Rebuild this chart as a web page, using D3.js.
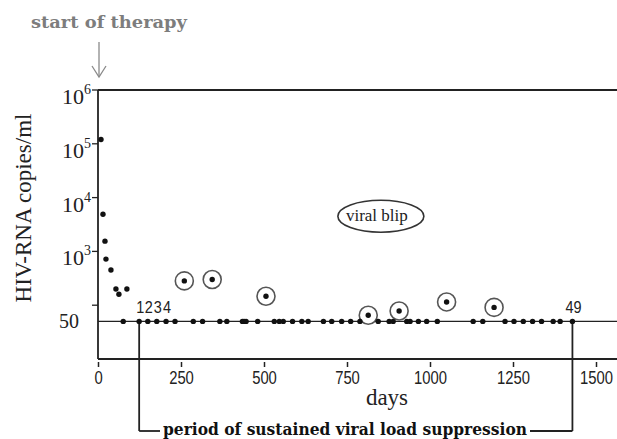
<!DOCTYPE html>
<html>
<head>
<meta charset="utf-8">
<script src="https://unpkg.com/d3@7/dist/d3.min.js"></script>
<style>
  html, body { margin: 0; padding: 0; background: #fff; }
  svg { display: block; }
</style>
</head>
<body>
<script>
// data
const earlyDays = [9, 15, 21, 24, 39, 54, 63, 87];
const earlyLoads = [120000, 4900, 1550, 720, 450, 200, 160, 200];

// samples below detection limit (drawn on the 50 copies line)
const suppressedDays = [76, 124, 150, 177, 205, 232, 287, 315, 367, 388, 435, 440, 446,
  481, 531, 546, 558, 586, 614, 633, 679, 704, 734, 761, 789, 844, 877, 889, 930, 940,
  965, 990, 1022, 1130, 1159, 1226, 1253, 1281, 1309, 1336, 1371, 1392, 1429];
const detectionLimit = 50;

const blipDays = [260, 344, 506, 814, 907, 1050, 1193];
const blipLoads = [283, 300, 147, 65, 78, 115, 91];

const xTicks = [0, 250, 500, 750, 1000, 1250, 1500];
const yDecades = [6, 5, 4, 3];
const labelledCounts = [1, 2, 3, 4, 49];

// layout
const width = 617;
const height = 439;

const x = d3.scaleLinear().domain([0, 1500]).range([98, 596]);
const y = d3.scaleLog().domain([10, 1e6]).range([359, 90]);

const svg = d3.select("body").append("svg")
  .attr("width", width)
  .attr("height", height);

const ink = "#222";
const narrow = "scale(0.78,1)"; // no narrow font installed, squeeze the sans

// frame: top line, y axis, x axis
svg.append("line")
  .attr("x1", x(0)).attr("x2", width)
  .attr("y1", y(1e6)).attr("y2", y(1e6))
  .attr("stroke", ink).attr("stroke-width", 1.8);
svg.append("line")
  .attr("x1", x(0)).attr("x2", x(0))
  .attr("y1", y(1e6)).attr("y2", y(10))
  .attr("stroke", ink).attr("stroke-width", 1.8);
svg.append("line")
  .attr("x1", x(0)).attr("x2", width)
  .attr("y1", y(10)).attr("y2", y(10))
  .attr("stroke", ink).attr("stroke-width", 1.8);

// detection limit line
svg.append("line")
  .attr("x1", x(0)).attr("x2", width)
  .attr("y1", y(detectionLimit)).attr("y2", y(detectionLimit))
  .attr("stroke", ink).attr("stroke-width", 1.1);

// y ticks (10^6 .. 10^2)
const yTickG = svg.append("g");
yTickG.selectAll("line")
  .data([6, 5, 4, 3, 2])
  .join("line")
  .attr("x1", x(0) - 6).attr("x2", x(0))
  .attr("y1", d => y(Math.pow(10, d))).attr("y2", d => y(Math.pow(10, d)))
  .attr("stroke", ink).attr("stroke-width", 1.3);

const yLab = yTickG.selectAll("text")
  .data(yDecades)
  .join("text")
  .attr("x", 91)
  .attr("y", d => y(Math.pow(10, d)) + 14)
  .attr("text-anchor", "end")
  .attr("font-family", "Liberation Serif, serif")
  .attr("font-size", 22)
  .attr("fill", ink);
yLab.append("tspan").text("10");
yLab.append("tspan")
  .attr("font-size", 14)
  .attr("dy", -10)
  .text(d => d);

svg.append("text")
  .attr("x", 79)
  .attr("y", y(detectionLimit) + 7)
  .attr("text-anchor", "end")
  .attr("font-family", "Liberation Serif, serif")
  .attr("font-size", 20)
  .attr("fill", ink)
  .text(detectionLimit);

// y title
svg.append("text")
  .attr("transform", "translate(31,208) rotate(-90)")
  .attr("text-anchor", "middle")
  .attr("font-family", "Liberation Serif, serif")
  .attr("font-size", 23)
  .attr("fill", ink)
  .text("HIV-RNA copies/ml");

// x axis (ticks detached below the axis line)
const xAxis = d3.axisBottom(x).tickValues(xTicks).tickFormat(d3.format("d"))
  .tickSize(5).tickPadding(4);
const xg = svg.append("g")
  .attr("transform", `translate(0,${y(10) + 3})`)
  .call(xAxis);
xg.select(".domain").remove();
xg.selectAll(".tick line").attr("stroke", ink).attr("stroke-width", 1.5);
xg.selectAll(".tick text")
  .attr("transform", narrow)
  .attr("font-family", "Liberation Sans, Arial, sans-serif")
  .attr("font-size", 19)
  .attr("fill", ink);

svg.append("text")
  .attr("x", 387)
  .attr("y", 405)
  .attr("text-anchor", "middle")
  .attr("font-family", "Liberation Serif, serif")
  .attr("font-size", 23)
  .attr("fill", ink)
  .text("days");

// start of therapy
svg.append("text")
  .attr("x", 31)
  .attr("y", 28)
  .attr("font-family", "DejaVu Serif, serif")
  .attr("font-weight", "bold")
  .attr("font-size", 17)
  .attr("textLength", 156)
  .attr("lengthAdjust", "spacingAndGlyphs")
  .attr("fill", "#7d7d7d")
  .text("start of therapy");

const arrow = svg.append("g")
  .attr("stroke", "#8a8a8a")
  .attr("stroke-width", 1.3)
  .attr("fill", "none");
arrow.append("line")
  .attr("x1", x(0) + 1).attr("x2", x(0) + 1)
  .attr("y1", 42).attr("y2", 77);
arrow.append("polyline")
  .attr("points", `${x(0) - 6},66 ${x(0) + 1},77 ${x(0) + 8},66`);

// numbering of samples within the suppression period
const periodStart = suppressedDays[1];
const periodEnd = suppressedDays[suppressedDays.length - 1];
const periodSamples = suppressedDays.map(d => ({ day: d, load: detectionLimit }))
  .concat(blipDays.map((d, i) => ({ day: d, load: blipLoads[i] })))
  .filter(s => s.day >= periodStart && s.day <= periodEnd)
  .sort((a, b) => a.day - b.day);

// bracket
const bracketY = 431;
const bracket = svg.append("g")
  .attr("stroke", ink).attr("stroke-width", 1.8).attr("fill", "none");
bracket.append("line")
  .attr("x1", x(periodStart)).attr("x2", x(periodStart))
  .attr("y1", y(detectionLimit)).attr("y2", bracketY);
bracket.append("line")
  .attr("x1", x(periodEnd)).attr("x2", x(periodEnd))
  .attr("y1", y(detectionLimit)).attr("y2", bracketY);

svg.append("text")
  .attr("x", 163)
  .attr("y", 435)
  .attr("font-family", "DejaVu Serif, serif")
  .attr("font-weight", "bold")
  .attr("font-size", 16)
  .attr("textLength", 364)
  .attr("lengthAdjust", "spacingAndGlyphs")
  .attr("fill", "#111")
  .text("period of sustained viral load suppression");

bracket.append("line")
  .attr("x1", x(periodStart)).attr("x2", 160)
  .attr("y1", bracketY).attr("y2", bracketY);
bracket.append("line")
  .attr("x1", 163 + 364 + 3).attr("x2", x(periodEnd))
  .attr("y1", bracketY).attr("y2", bracketY);

// viral blip annotation
const noteX = x(852), noteY = y(4500);
svg.append("ellipse")
  .attr("cx", noteX).attr("cy", noteY)
  .attr("rx", 43).attr("ry", 16)
  .attr("fill", "none").attr("stroke", "#333").attr("stroke-width", 1.6);
svg.append("text")
  .attr("x", noteX - 4).attr("y", noteY + 5)
  .attr("text-anchor", "middle")
  .attr("font-family", "Liberation Serif, serif")
  .attr("font-size", 17)
  .attr("fill", ink)
  .text("viral blip");

// blip rings
svg.append("g").selectAll("circle")
  .data(blipDays)
  .join("circle")
  .attr("cx", d => x(d))
  .attr("cy", (d, i) => y(blipLoads[i]))
  .attr("r", 9)
  .attr("fill", "#fff")
  .attr("stroke", "#555")
  .attr("stroke-width", 1.6);

// points
const allPoints = earlyDays.map((d, i) => ({ day: d, load: earlyLoads[i] }))
  .concat(suppressedDays.map(d => ({ day: d, load: detectionLimit })))
  .concat(blipDays.map((d, i) => ({ day: d, load: blipLoads[i] })));

svg.append("g").selectAll("circle")
  .data(allPoints)
  .join("circle")
  .attr("cx", d => x(d.day))
  .attr("cy", d => y(d.load))
  .attr("r", 2.7)
  .attr("fill", "#111");

// sample numbers
svg.append("g").selectAll("text")
  .data(labelledCounts)
  .join("text")
  .attr("transform", n =>
    `translate(${x(periodSamples[n - 1].day) + 1},${y(periodSamples[n - 1].load) - 8}) scale(0.85,1)`)
  .attr("text-anchor", "middle")
  .attr("font-family", "Liberation Sans, Arial, sans-serif")
  .attr("font-size", 17)
  .attr("fill", ink)
  .text(n => n);
</script>
</body>
</html>
